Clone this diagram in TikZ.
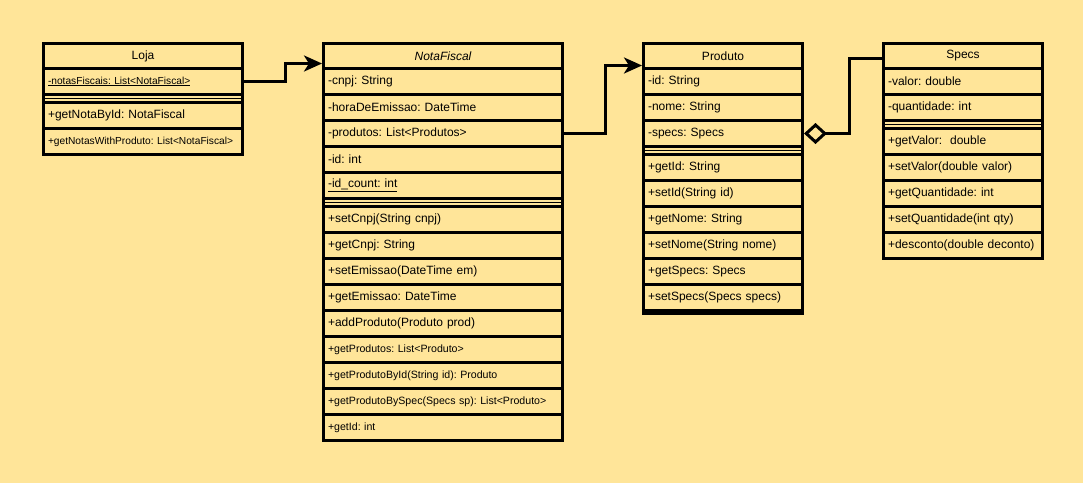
\documentclass[tikz,border=0pt]{standalone}
\usepackage{fontspec}
\setmainfont{Liberation Sans}
\usetikzlibrary{arrows.meta}
\definecolor{notebg}{HTML}{FFE599}
\frenchspacing
\begin{document}
\begin{tikzpicture}[x=1pt,y=-1pt,
  cls/.style={draw, line width=3pt, fill=notebg, anchor=north west, inner xsep=4.5pt, inner ysep=0pt,
    align=left, minimum height=26pt, font=\fontsize{12}{14}\selectfont},
  head/.style={cls, align=center, minimum height=25pt},
  sepbar/.style={cls, minimum height=8pt},
  small/.style={font=\fontsize{10.2}{12}\selectfont},
  smaller/.style={font=\fontsize{10.6}{12}\selectfont},
  wloja/.style={text width=190pt},
  wnota/.style={text width=230pt},
  wprod/.style={text width=150pt},
  conn/.style={line width=3pt},
  assoc/.style={conn, -{Stealth[length=18pt,width=16pt,inset=5pt]}},
  agg/.style={conn, {Diamond[open,length=23pt,width=21pt]}-}]
\fill[notebg] (0,0) rectangle (1083,483);
% Loja
\node[head,wloja] (lj-head) at (42,42) {Loja};
\node[cls,wloja,small] (lj-a1) at (42,67) {\underline{-notasFiscais: List<NotaFiscal>}};
\node[sepbar,wloja] (lj-sep) at (42,93) {};
\draw[line width=1.5pt] (lj-sep.west) -- (lj-sep.east);
\node[cls,wloja] (lj-m1) at (42,101) {+getNotaById: NotaFiscal};
\node[cls,wloja,small] (lj-m2) at (42,127) {+getNotasWithProduto: List<NotaFiscal>};
% NotaFiscal
\node[head,wnota] (nf-head) at (322,42) {\itshape NotaFiscal};
\node[cls,wnota] (nf-a1) at (322,67) {-cnpj: String};
\node[cls,wnota] (nf-a2) at (322,93) {-horaDeEmissao: DateTime};
\node[cls,wnota] (nf-a3) at (322,119) {-produtos: List<Produtos>};
\node[cls,wnota] (nf-a4) at (322,145) {-id: int};
\node[cls,wnota] (nf-a5) at (322,171) {\underline{-id\_count: int}};
\node[sepbar,wnota] (nf-sep) at (322,197) {};
\draw[line width=1.5pt] (nf-sep.west) -- (nf-sep.east);
\node[cls,wnota] (nf-m1) at (322,205) {+setCnpj(String cnpj)};
\node[cls,wnota] (nf-m2) at (322,231) {+getCnpj: String};
\node[cls,wnota] (nf-m3) at (322,257) {+setEmissao(DateTime em)};
\node[cls,wnota] (nf-m4) at (322,283) {+getEmissao: DateTime};
\node[cls,wnota] (nf-m5) at (322,309) {+addProduto(Produto prod)};
\node[cls,wnota,smaller] (nf-m6) at (322,335) {+getProdutos: List<Produto>};
\node[cls,wnota,smaller] (nf-m7) at (322,361) {+getProdutoById(String id): Produto};
\node[cls,wnota,smaller] (nf-m8) at (322,387) {+getProdutoBySpec(Specs sp): List<Produto>};
\node[cls,wnota,smaller] (nf-m9) at (322,413) {+getId: int};
% Produto
\node[head,wprod] (pr-head) at (642,42) {Produto};
\node[cls,wprod] (pr-a1) at (642,67) {-id: String};
\node[cls,wprod] (pr-a2) at (642,93) {-nome: String};
\node[cls,wprod] (pr-a3) at (642,119) {-specs: Specs};
\node[sepbar,wprod] (pr-sep) at (642,145) {};
\draw[line width=1.5pt] (pr-sep.west) -- (pr-sep.east);
\node[cls,wprod] (pr-m1) at (642,153) {+getId: String};
\node[cls,wprod] (pr-m2) at (642,179) {+setId(String id)};
\node[cls,wprod] (pr-m3) at (642,205) {+getNome: String};
\node[cls,wprod] (pr-m4) at (642,231) {+setNome(String nome)};
\node[cls,wprod] (pr-m5) at (642,257) {+getSpecs: Specs};
\node[cls,wprod] (pr-m6) at (642,283) {+setSpecs(Specs specs)};
\draw[line width=3pt] ([yshift=-1.5pt]pr-m6.south west) -- ([yshift=-1.5pt]pr-m6.south east);
% Specs
\node[head,wprod] (sp-head) at (882,42) {Specs};
\node[cls,wprod] (sp-a1) at (882,67) {-valor: double};
\node[cls,wprod] (sp-a2) at (882,93) {-quantidade: int};
\node[sepbar,wprod] (sp-sep) at (882,119) {};
\draw[line width=1.5pt] (sp-sep.west) -- (sp-sep.east);
\node[cls,wprod] (sp-m1) at (882,127) {+getValor:\ \ double};
\node[cls,wprod] (sp-m2) at (882,153) {+setValor(double valor)};
\node[cls,wprod] (sp-m3) at (882,179) {+getQuantidade: int};
\node[cls,wprod] (sp-m4) at (882,205) {+setQuantidade(int qty)};
\node[cls,wprod] (sp-m5) at (882,231) {+desconto(double deconto)};
% links
\draw[assoc] (lj-a1.east) -- ++(41,0) |- ([yshift=-7.5pt]nf-head.west);
\draw[assoc] (nf-a3.east) -- ++(41,0) |- ([yshift=-9.5pt]pr-head.west);
\draw[agg] (pr-a3.east) -- ++(45,0) |- ([yshift=-2.5pt]sp-head.west);
\end{tikzpicture}
\end{document}
